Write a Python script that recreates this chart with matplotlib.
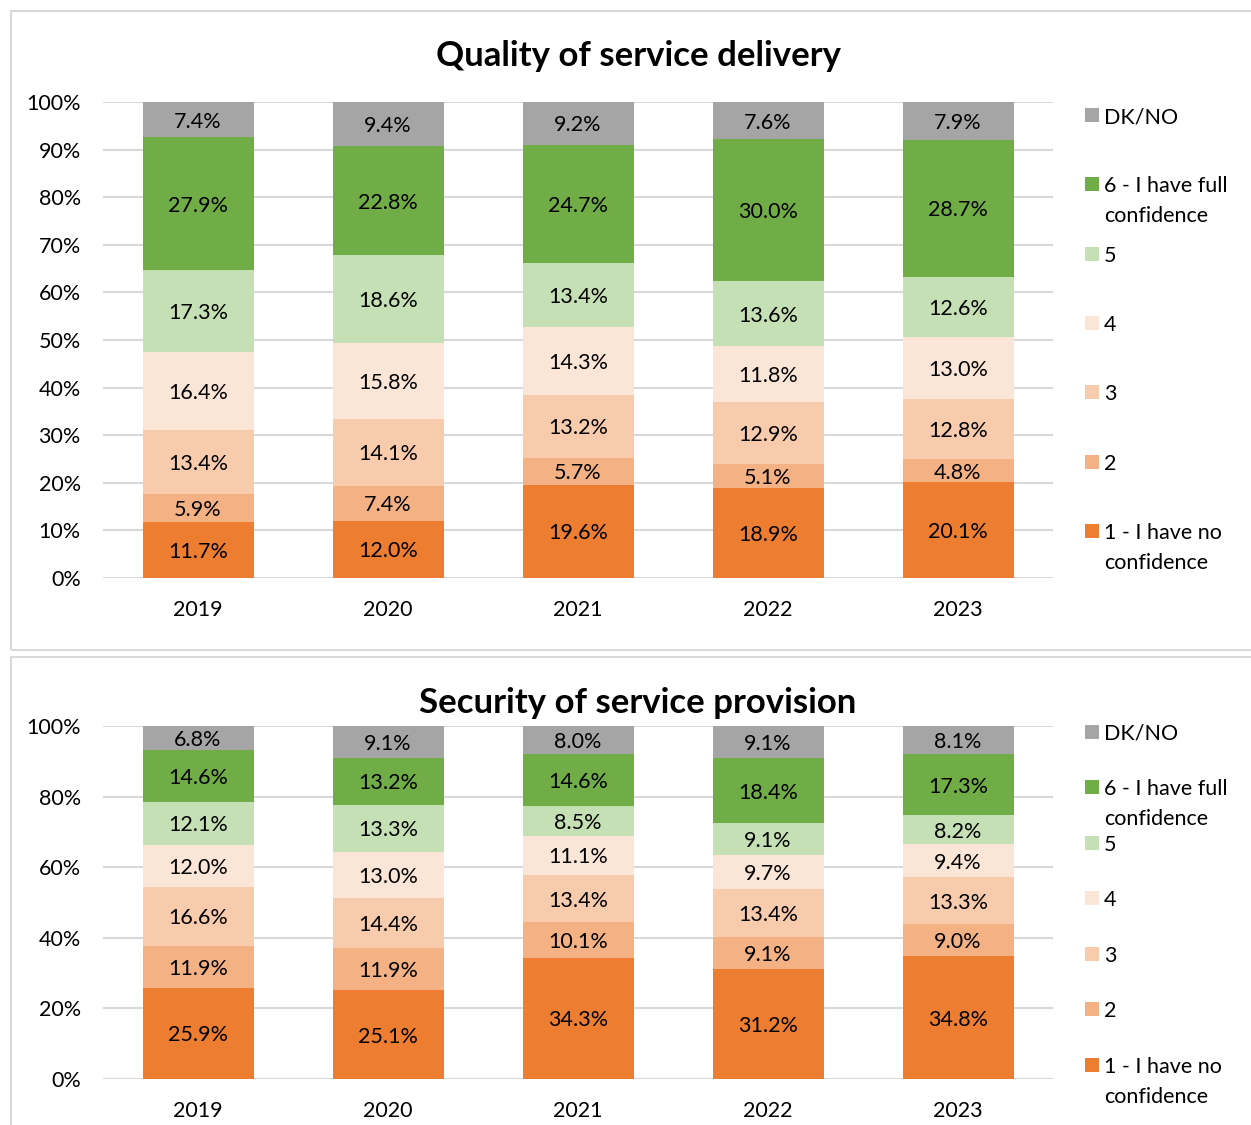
import matplotlib
matplotlib.use("Agg")
import matplotlib.pyplot as plt
from matplotlib.patches import Rectangle
import numpy as np

plt.rcParams['font.family'] = ['Lato', 'DejaVu Sans']

years = ["2019", "2020", "2021", "2022", "2023"]
series = ["1 - I have no\nconfidence", "2", "3", "4", "5", "6 - I have full\nconfidence", "DK/NO"]
colors = ["#ED7D31", "#F4B183", "#F8CBAD", "#FBE5D6", "#C5E0B4", "#70AD47", "#A5A5A5"]

quality = {
    "1": [11.7, 12.0, 19.6, 18.9, 20.1],
    "2": [5.9, 7.4, 5.7, 5.1, 4.8],
    "3": [13.4, 14.1, 13.2, 12.9, 12.8],
    "4": [16.4, 15.8, 14.3, 11.8, 13.0],
    "5": [17.3, 18.6, 13.4, 13.6, 12.6],
    "6": [27.9, 22.8, 24.7, 30.0, 28.7],
    "DK": [7.4, 9.4, 9.2, 7.6, 7.9],
}
security = {
    "1": [25.9, 25.1, 34.3, 31.2, 34.8],
    "2": [11.9, 11.9, 10.1, 9.1, 9.0],
    "3": [16.6, 14.4, 13.4, 13.4, 13.3],
    "4": [12.0, 13.0, 11.1, 9.7, 9.4],
    "5": [12.1, 13.3, 8.5, 9.1, 8.2],
    "6": [14.6, 13.2, 14.6, 18.4, 17.3],
    "DK": [6.8, 9.1, 8.0, 9.1, 8.1],
}
titles = ["Quality of service delivery", "Security of service provision"]

W, H = 1251, 1125
fig = plt.figure(figsize=(W / 100, H / 100), dpi=100)

FS = 15.5

def fx(px):
    return px / W

def fy(py):
    return 1 - py / H

# panel borders
for (x0, y0, x1, y1) in [(11, 11, 1262, 650), (11, 657, 1262, 1140)]:
    fig.add_artist(Rectangle((fx(x0), fy(y1)), fx(x1 - x0), (y1 - y0) / H,
                             transform=fig.transFigure, fill=False,
                             edgecolor="#D9D9D9", linewidth=1.5))

panels = [
    dict(data=quality, top=102, bot=578, ymax=100, step=10, title_y=56,
         leg_y=[115, 184, 254, 323, 392, 462, 531]),
    dict(data=security, top=726, bot=1079, ymax=100, step=20, title_y=703,
         leg_y=[732, 787, 843, 898, 954, 1009, 1065]),
]

width = 111 / 190
for p, title in zip(panels, titles):
    ax = fig.add_axes([fx(103), fy(p["bot"]), fx(1053 - 103), (p["bot"] - p["top"]) / H])
    ax.set_xlim(-0.5, 4.5)
    ax.set_ylim(0, p["ymax"])
    x = np.arange(len(years))
    bottom = np.zeros(len(years))
    keys = ["1", "2", "3", "4", "5", "6", "DK"]
    for k, c in zip(keys, colors):
        vals = np.array(p["data"][k])
        ax.bar(x, vals, width, bottom=bottom, color=c, zorder=3)
        for xi, v, b in zip(x, vals, bottom):
            ax.text(xi, b + v / 2, f"{v:.1f}%", ha="center", va="center_baseline",
                    fontsize=FS, color="#000000", zorder=4)
        bottom += vals
    ticks = np.arange(0, p["ymax"] + 1, p["step"])
    ax.set_yticks(ticks)
    ax.set_yticklabels([f"{int(t)}%" for t in ticks], fontsize=FS)
    ax.set_xticks(x)
    ax.set_xticklabels(years, fontsize=FS)
    ax.tick_params(axis="y", length=0, pad=16)
    ax.tick_params(axis="x", length=0, pad=16)
    ax.grid(axis="y", color="#D9D9D9", linewidth=1.5, zorder=0)
    for s in ax.spines.values():
        s.set_visible(False)
    fig.text(fx(638), fy(p["title_y"]), title, ha="center", va="center",
             fontsize=25, fontweight="bold")
    # legend
    for lab, c, ly in zip(series[::-1], colors[::-1], p["leg_y"]):
        fig.add_artist(Rectangle((fx(1085), fy(ly + 7)), fx(14), 14 / H,
                                 transform=fig.transFigure, facecolor=c, edgecolor="none"))
        for i, line in enumerate(lab.split("\n")):
            fig.text(fx(1104), fy(ly + 30 * i), line, ha="left", va="center_baseline",
                     fontsize=FS)

fig.savefig("out.png", dpi=100)
